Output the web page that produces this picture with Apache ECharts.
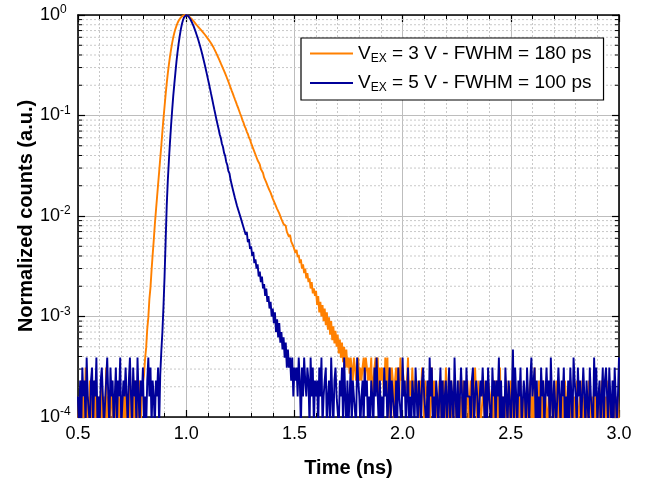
<!DOCTYPE html>
<html>
<head>
<meta charset="utf-8">
<script src="https://cdn.jsdelivr.net/npm/echarts@6/dist/echarts.min.js"></script>
<style>html,body{margin:0;padding:0;background:#fff}#c{width:646px;height:479px}</style>
</head>
<body>
<div id="c"></div>
<script>
// ---- data (time grid: start + step, values per bin) ----
const timeStart = 0.5;
const timeStep = 0.005;
const xMin = 0.5, xMax = 3.0, xInterval = 0.5;
const yMin = 1e-4, yMax = 1;
const minorYValues = [2e-4,3e-4,4e-4,5e-4,6e-4,7e-4,8e-4,9e-4,
  2e-3,3e-3,4e-3,5e-3,6e-3,7e-3,8e-3,9e-3,
  0.02,0.03,0.04,0.05,0.06,0.07,0.08,0.09,
  0.2,0.3,0.4,0.5,0.6,0.7,0.8,0.9];
const seriesNames = ['VEX = 3 V - FWHM = 180 ps', 'VEX = 5 V - FWHM = 100 ps'];
const legendParts = {
  'VEX = 3 V - FWHM = 180 ps': ['V', 'EX', ' = 3 V - FWHM = 180 ps'],
  'VEX = 5 V - FWHM = 100 ps': ['V', 'EX', ' = 5 V - FWHM = 100 ps']
};

// V_EX = 3 V (orange), one value per 5 ps bin from 0.5 ns to 3.0 ns
const orangeValues = [
8e-5,1.6e-4,8e-5,2.3e-4,8e-5,1.6e-4,8e-5,3.1e-4,8e-5,1.6e-4,8e-5,2.3e-4,8e-5,1.6e-4,1.6e-4,8e-5,2.3e-4,8e-5,1.6e-4,8e-5,
1.6e-4,8e-5,2.3e-4,8e-5,1.6e-4,8e-5,3.1e-4,8e-5,1.6e-4,8e-5,8e-5,2.3e-4,8e-5,1.6e-4,8e-5,2.3e-4,8e-5,1.6e-4,8e-5,1.6e-4,
1.6e-4,8e-5,1.6e-4,8e-5,2.3e-4,8e-5,1.6e-4,8e-5,3.1e-4,8e-5,8e-5,1.6e-4,8e-5,2.3e-4,8e-5,1.6e-4,8e-5,2.3e-4,8e-5,1.6e-4,
2.2e-4,2.6e-4,3.8e-4,4.9e-4,7.5e-4,9.8e-4,1.5e-3,1.95e-3,2.9e-3,4.1e-3,5.7e-3,8.2e-3,0.0112,0.0151,0.0204,0.0275,0.0372,0.0501,0.0692,0.0933,
0.123,0.162,0.209,0.263,0.320,0.385,0.452,0.525,0.596,0.661,0.724,0.780,0.832,0.877,0.916,0.946,0.970,0.986,0.995,1.0,
0.998,0.991,0.975,0.959,0.940,0.916,0.891,0.863,0.838,0.811,0.787,0.764,0.745,0.724,0.705,0.684,0.664,0.643,0.622,0.603,
0.582,0.562,0.543,0.524,0.504,0.481,0.457,0.435,0.412,0.391,0.370,0.350,0.330,0.312,0.294,0.278,0.262,0.247,0.231,0.217,
0.203,0.190,0.177,0.166,0.155,0.145,0.136,0.127,0.119,0.111,0.1035,0.0972,0.0895,0.0848,0.0782,0.0745,0.0688,0.0655,0.0604,0.0576,
0.0531,0.0508,0.0466,0.0447,0.0409,0.0395,0.0359,0.0346,0.0326,0.0294,0.0285,0.0268,0.0242,0.0237,0.0216,0.0211,0.0190,0.0187,0.0171,0.0167,
0.0149,0.0152,0.0133,0.0136,0.0118,0.0121,0.0106,0.0109,0.0093,0.0097,0.0083,0.0086,0.0080,0.0070,0.0072,0.0062,0.0065,0.0056,0.0058,0.0050,
0.0052,0.0043,0.0046,0.0039,0.0041,0.0034,0.0037,0.0030,0.0033,0.0027,0.0030,0.0024,0.0027,0.0022,0.0024,0.0019,0.0022,0.0017,0.0019,0.0016,
0.0018,0.0013,0.0016,0.0011,0.0014,0.0010,0.0013,0.0009,0.0012,0.00082,0.0011,0.00074,0.00098,0.00066,0.00090,0.00058,0.00080,0.00054,0.00072,0.00050,
0.00066,0.00043,0.00059,0.00039,0.00055,0.00035,0.00050,0.00031,0.00047,0.00031,0.00039,0.00027,0.00039,3.1e-4,2.3e-4,3.9e-4,3.1e-4,2.3e-4,3.1e-4,3.9e-4,
2.3e-4,3.1e-4,2.3e-4,3.1e-4,3.9e-4,2.3e-4,3.9e-4,3.1e-4,2.3e-4,3.1e-4,2.3e-4,3.9e-4,1.6e-4,2.3e-4,3.1e-4,3.9e-4,2.3e-4,3.9e-4,1.6e-4,3.1e-4,
2.3e-4,3.1e-4,2.3e-4,1.6e-4,3.9e-4,2.3e-4,3.9e-4,8e-5,3.1e-4,1.6e-4,3.1e-4,2.3e-4,8e-5,2.3e-4,3.1e-4,1.6e-4,3.1e-4,1.6e-4,3.9e-4,2.3e-4,
3.1e-4,2.3e-4,1.6e-4,1.6e-4,2.3e-4,3.9e-4,1.6e-4,2.3e-4,1.6e-4,3.1e-4,1.6e-4,2.3e-4,1.6e-4,2.3e-4,1.6e-4,8e-5,2.3e-4,1.6e-4,3.1e-4,1.6e-4,
8e-5,2.3e-4,1.6e-4,1.6e-4,2.3e-4,8e-5,1.6e-4,3.1e-4,8e-5,2.3e-4,1.6e-4,8e-5,1.6e-4,8e-5,2.3e-4,1.6e-4,8e-5,1.6e-4,2.3e-4,8e-5,
3.1e-4,1.6e-4,8e-5,1.6e-4,8e-5,2.3e-4,8e-5,1.6e-4,2.3e-4,8e-5,1.6e-4,8e-5,2.3e-4,8e-5,1.6e-4,8e-5,2.3e-4,1.6e-4,8e-5,1.6e-4,
2.3e-4,8e-5,1.6e-4,2.3e-4,8e-5,1.6e-4,8e-5,3.1e-4,1.6e-4,8e-5,2.3e-4,1.6e-4,8e-5,8e-5,1.6e-4,2.3e-4,8e-5,1.6e-4,8e-5,2.3e-4,
2.3e-4,1.6e-4,8e-5,1.6e-4,8e-5,2.3e-4,8e-5,2.3e-4,8e-5,1.6e-4,3.1e-4,8e-5,1.6e-4,8e-5,1.6e-4,8e-5,2.3e-4,8e-5,1.6e-4,8e-5,
2.3e-4,1.6e-4,8e-5,2.3e-4,8e-5,1.6e-4,8e-5,1.6e-4,8e-5,2.3e-4,8e-5,1.6e-4,8e-5,1.6e-4,8e-5,2.3e-4,8e-5,1.6e-4,2.3e-4,8e-5,
1.6e-4,8e-5,3.1e-4,8e-5,1.6e-4,8e-5,2.3e-4,8e-5,1.6e-4,8e-5,2.3e-4,8e-5,1.6e-4,1.6e-4,8e-5,1.6e-4,8e-5,2.3e-4,1.6e-4,8e-5,
1.6e-4,8e-5,2.3e-4,8e-5,2.3e-4,8e-5,1.6e-4,8e-5,1.6e-4,8e-5,2.3e-4,1.6e-4,8e-5,1.6e-4,8e-5,2.3e-4,8e-5,1.6e-4,8e-5,1.6e-4,
8e-5,2.3e-4,8e-5,8e-5,1.6e-4,8e-5,2.3e-4,8e-5,1.6e-4,8e-5,1.6e-4,8e-5,2.3e-4,1.6e-4,8e-5,1.6e-4,8e-5,2.3e-4,8e-5,1.6e-4,
8e-5,1.6e-4,8e-5,8e-5,2.3e-4,8e-5,1.6e-4,8e-5,1.6e-4,8e-5,2.3e-4,8e-5,1.6e-4,1.6e-4,8e-5,2.3e-4,8e-5,1.6e-4,8e-5,1.6e-4,
8e-5
];

// V_EX = 5 V (blue), same time grid
const blueValues = [
1.6e-4,8e-5,2.3e-4,8e-5,3.1e-4,1.6e-4,2.3e-4,8e-5,3.9e-4,1.6e-4,1.6e-4,8e-5,2.3e-4,3.1e-4,8e-5,2.3e-4,1.6e-4,3.9e-4,8e-5,1.6e-4,
8e-5,2.3e-4,3.1e-4,1.6e-4,8e-5,8e-5,2.3e-4,3.9e-4,1.6e-4,8e-5,3.1e-4,1.6e-4,2.3e-4,8e-5,1.6e-4,3.1e-4,8e-5,2.3e-4,1.6e-4,3.9e-4,
8e-5,8e-5,2.3e-4,1.6e-4,3.1e-4,1.6e-4,8e-5,2.3e-4,3.9e-4,1.6e-4,8e-5,3.1e-4,1.6e-4,2.3e-4,8e-5,3.9e-4,1.6e-4,8e-5,2.3e-4,1.6e-4,
3.1e-4,8e-5,1.6e-4,8e-5,2.3e-4,3.9e-4,1.6e-4,3.1e-4,8e-5,2.3e-4,1.6e-4,8e-5,2.3e-4,1.6e-4,3.1e-4,8e-5,2.6e-4,4.5e-4,7e-4,1.26e-3,
0.0025,0.0056,0.0126,0.0224,0.0355,0.054,0.079,0.112,0.155,0.204,0.266,0.343,0.427,0.519,0.617,0.716,0.809,0.887,0.948,0.986,
1.0,0.993,0.973,0.942,0.902,0.857,0.813,0.766,0.716,0.667,0.619,0.573,0.527,0.483,0.441,0.400,0.361,0.325,0.292,0.261,
0.233,0.208,0.185,0.164,0.146,0.129,0.1146,0.1019,0.0908,0.0813,0.0730,0.0648,0.0597,0.0524,0.0486,0.0425,0.0396,0.0345,0.0322,0.0280,
0.0266,0.0229,0.0219,0.0186,0.0181,0.0152,0.0150,0.0126,0.0127,0.0107,0.0110,0.0091,0.0094,0.0077,0.0080,0.0065,0.0069,0.0055,0.0059,0.0047,
0.0050,0.0040,0.0044,0.0034,0.0037,0.0030,0.0033,0.0025,0.0028,0.0022,0.0025,0.0019,0.0021,0.0016,0.0019,0.0014,0.0016,0.0012,0.0014,0.0010,
0.0012,0.00086,0.0011,0.00070,0.00094,0.00062,0.00086,0.00055,0.00070,0.00047,0.00062,0.00039,0.00055,0.00031,0.00047,0.00031,0.00039,0.00023,0.00039,0.00016,
0.00031,2.3e-4,3.1e-4,1.6e-4,3.9e-4,2.3e-4,8e-5,3.1e-4,1.6e-4,3.9e-4,2.3e-4,1.6e-4,3.1e-4,2.3e-4,8e-5,3.9e-4,1.6e-4,3.1e-4,8e-5,2.3e-4,
1.6e-4,2.3e-4,8e-5,3.1e-4,1.6e-4,3.9e-4,8e-5,1.6e-4,2.3e-4,3.1e-4,8e-5,1.6e-4,2.3e-4,8e-5,3.9e-4,1.6e-4,8e-5,2.3e-4,3.1e-4,1.6e-4,
1.6e-4,8e-5,2.3e-4,1.6e-4,3.1e-4,8e-5,3.9e-4,1.6e-4,8e-5,2.3e-4,8e-5,1.6e-4,3.1e-4,8e-5,2.3e-4,1.6e-4,1.6e-4,8e-5,3.9e-4,2.3e-4,
1.6e-4,8e-5,1.6e-4,2.3e-4,8e-5,3.1e-4,1.6e-4,2.3e-4,8e-5,1.6e-4,8e-5,2.3e-4,1.6e-4,8e-5,3.1e-4,1.6e-4,3.9e-4,1.6e-4,8e-5,2.3e-4,
8e-5,1.6e-4,8e-5,3.1e-4,1.6e-4,2.3e-4,8e-5,1.6e-4,3.1e-4,8e-5,2.3e-4,1.6e-4,1.6e-4,8e-5,2.3e-4,8e-5,3.1e-4,1.6e-4,1.6e-4,8e-5,
3.9e-4,1.6e-4,2.3e-4,8e-5,1.6e-4,3.1e-4,8e-5,1.6e-4,8e-5,2.3e-4,1.6e-4,8e-5,3.1e-4,1.6e-4,8e-5,2.3e-4,1.6e-4,8e-5,2.3e-4,3.1e-4,
1.6e-4,1.6e-4,8e-5,2.3e-4,8e-5,3.9e-4,1.6e-4,3.1e-4,8e-5,1.6e-4,8e-5,2.3e-4,1.6e-4,8e-5,1.6e-4,3.1e-4,8e-5,2.3e-4,8e-5,1.6e-4,
2.3e-4,8e-5,1.6e-4,3.1e-4,8e-5,2.3e-4,1.6e-4,8e-5,3.9e-4,1.6e-4,8e-5,2.3e-4,8e-5,1.6e-4,3.1e-4,1.6e-4,8e-5,2.3e-4,8e-5,3.1e-4,
1.6e-4,1.6e-4,1.6e-4,8e-5,2.3e-4,3.1e-4,8e-5,1.6e-4,2.3e-4,1.6e-4,8e-5,8e-5,2.3e-4,1.6e-4,3.1e-4,1.6e-4,8e-5,2.3e-4,8e-5,3.1e-4,
1.6e-4,1.6e-4,8e-5,3.1e-4,1.6e-4,2.3e-4,8e-5,2.3e-4,1.6e-4,3.9e-4,8e-5,2.3e-4,8e-5,1.6e-4,8e-5,3.1e-4,1.6e-4,8e-5,2.3e-4,1.6e-4,
8e-5,1.6e-4,4.7e-4,8e-5,3.1e-4,1.6e-4,8e-5,2.3e-4,1.6e-4,3.1e-4,8e-5,8e-5,2.3e-4,1.6e-4,8e-5,3.1e-4,1.6e-4,8e-5,2.3e-4,3.9e-4,
1.6e-4,1.6e-4,3.1e-4,8e-5,2.3e-4,8e-5,1.6e-4,8e-5,3.1e-4,1.6e-4,2.3e-4,8e-5,1.6e-4,3.1e-4,1.6e-4,2.3e-4,8e-5,3.9e-4,1.6e-4,8e-5,
2.3e-4,2.3e-4,8e-5,1.6e-4,3.1e-4,1.6e-4,8e-5,2.3e-4,1.6e-4,3.1e-4,8e-5,1.6e-4,8e-5,2.3e-4,8e-5,3.1e-4,1.6e-4,8e-5,3.9e-4,2.3e-4,
1.6e-4,8e-5,3.1e-4,1.6e-4,2.3e-4,8e-5,1.6e-4,3.1e-4,1.6e-4,8e-5,2.3e-4,2.3e-4,8e-5,3.1e-4,1.6e-4,1.6e-4,8e-5,3.9e-4,1.6e-4,3.1e-4,
8e-5,1.6e-4,2.3e-4,8e-5,1.6e-4,3.1e-4,8e-5,2.3e-4,3.1e-4,1.6e-4,8e-5,3.1e-4,1.6e-4,8e-5,2.3e-4,8e-5,3.1e-4,1.6e-4,8e-5,1.6e-4,
3.9e-4
];

// ---- chart ----
const FONT = '"Liberation Sans", Arial, Helvetica, sans-serif';
const ORANGE = '#FF8000';
const BLUE = '#000099';
const toPairs = arr => arr.map((v, i) => [Math.round((timeStart + i * timeStep) * 1000) / 1000, v]);

const chart = echarts.init(document.getElementById('c'), null, { renderer: 'canvas' });

const axisLineStyle = { color: '#000', width: 1.6 };
const tickStyle = { color: '#000', width: 1.2 };

const option = {
  animation: false,
  backgroundColor: '#fff',
  textStyle: { fontFamily: FONT },
  grid: { left: 78, right: 27, top: 15, bottom: 62, outerBoundsMode: 'none', containLabel: false },
  legend: {
    orient: 'vertical',
    left: 301, top: 38,
    padding: [6, 12, 6, 9],
    itemGap: 9, itemWidth: 43, itemHeight: 2,
    icon: 'rect',
    borderColor: '#000', borderWidth: 1.2,
    backgroundColor: '#fff',
    data: seriesNames,
    formatter: name => {
      const p = legendParts[name];
      return '{m|' + p[0] + '}{s|' + p[1] + '}{m|' + p[2] + '}';
    },
    textStyle: {
      color: '#000', fontFamily: FONT, fontSize: 19,
      rich: {
        m: { fontSize: 19, lineHeight: 22, fontFamily: FONT, color: '#000' },
        s: { fontSize: 12, lineHeight: 10, verticalAlign: 'bottom', fontFamily: FONT, color: '#000' }
      }
    }
  },
  xAxis: [{
    type: 'value', min: xMin, max: xMax, interval: xInterval, position: 'bottom',
    axisLine: { show: true, onZero: false, lineStyle: axisLineStyle },
    axisTick: { show: true, inside: true, length: 7, lineStyle: tickStyle },
    minorTick: { show: true, splitNumber: 5, length: 4, lineStyle: { color: '#000', width: 1 } },
    splitLine: { show: true, lineStyle: { color: '#bdbdbd', width: 1 } },
    minorSplitLine: { show: true, lineStyle: { color: '#c8c8c8', width: 1, type: [2, 2] } },
    axisLabel: { formatter: v => v.toFixed(1), fontSize: 18, color: '#000', fontFamily: FONT, margin: 8 },
    name: 'Time (ns)', nameLocation: 'middle', nameGap: 41, nameMoveOverlap: false,
    nameTextStyle: { fontSize: 20, fontWeight: 'bold', color: '#000', fontFamily: FONT }
  }, {
    type: 'value', min: xMin, max: xMax, interval: xInterval, position: 'top',
    axisLine: { show: true, onZero: false, lineStyle: axisLineStyle },
    axisTick: { show: true, inside: true, length: 7, lineStyle: tickStyle },
    minorTick: { show: true, splitNumber: 5, length: 4, lineStyle: { color: '#000', width: 1 } },
    splitLine: { show: false },
    axisLabel: { show: false }
  }],
  yAxis: [{
    type: 'log', logBase: 10, min: yMin, max: yMax, position: 'left',
    axisLine: { show: true, onZero: false, lineStyle: axisLineStyle },
    axisTick: { show: true, inside: true, length: 7, lineStyle: tickStyle },
    splitLine: { show: true, lineStyle: { color: '#bdbdbd', width: 1 } },
    axisLabel: {
      align: 'left', margin: 38,
      formatter: v => '{b|10}{e|' + Math.round(Math.log10(v)) + '}',
      rich: {
        b: { fontSize: 18, lineHeight: 22, color: '#000', fontFamily: FONT },
        e: { fontSize: 12, lineHeight: 10, verticalAlign: 'top', color: '#000', fontFamily: FONT }
      }
    },
    name: 'Normalized counts (a.u.)', nameLocation: 'middle', nameGap: 42, nameMoveOverlap: false,
    nameTextStyle: { fontSize: 20, fontWeight: 'bold', color: '#000', fontFamily: FONT }
  }, {
    type: 'log', logBase: 10, min: yMin, max: yMax, position: 'right',
    axisLine: { show: true, onZero: false, lineStyle: axisLineStyle },
    axisTick: { show: true, inside: true, length: 7, lineStyle: tickStyle },
    splitLine: { show: false },
    axisLabel: { show: false }
  }],
  series: [
    {
      type: 'custom', name: 'minorY', silent: true, z: 1,
      xAxisIndex: 0, yAxisIndex: 0,
      data: minorYValues.map(v => [xMin, v]),
      encode: { x: 0, y: 1 },
      renderItem: (params, api) => {
        const v = api.value(1);
        const p1 = api.coord([xMin, v]);
        const p2 = api.coord([xMax, v]);
        return {
          type: 'group',
          children: [
            { type: 'line', shape: { x1: p1[0], y1: p1[1], x2: p2[0], y2: p2[1] },
              style: { stroke: '#c8c8c8', lineWidth: 1, lineDash: [2, 2] } },
            { type: 'line', shape: { x1: p1[0], y1: p1[1], x2: p1[0] + 4, y2: p1[1] },
              style: { stroke: '#000', lineWidth: 1 } },
            { type: 'line', shape: { x1: p2[0] - 4, y1: p2[1], x2: p2[0], y2: p2[1] },
              style: { stroke: '#000', lineWidth: 1 } }
          ]
        };
      }
    },
    {
      type: 'line', name: seriesNames[0], xAxisIndex: 0, yAxisIndex: 0,
      data: toPairs(orangeValues), symbol: 'none', showSymbol: false,
      lineStyle: { color: ORANGE, width: 1.9 }, itemStyle: { color: ORANGE },
      z: 3, clip: true
    },
    {
      type: 'line', name: seriesNames[1], xAxisIndex: 0, yAxisIndex: 0,
      data: toPairs(blueValues), symbol: 'none', showSymbol: false,
      lineStyle: { color: BLUE, width: 1.9 }, itemStyle: { color: BLUE },
      z: 4, clip: true
    }
  ]
};
chart.setOption(option);
</script>
</body>
</html>
